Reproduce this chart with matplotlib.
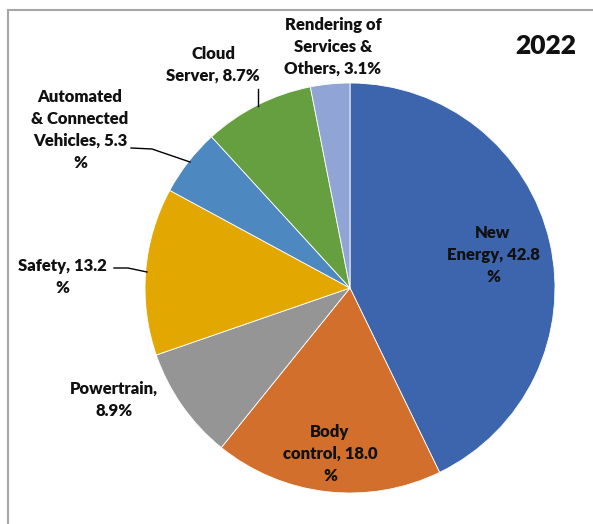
import matplotlib.pyplot as plt
from matplotlib.lines import Line2D

plt.rcParams['font.family'] = ['Lato', 'DejaVu Sans']

# data, clockwise from 12 o'clock
categories = ["New Energy", "Body control", "Powertrain", "Safety",
              "Automated & Connected Vehicles", "Cloud Server",
              "Rendering of Services & Others"]
shares = [42.8, 18.0, 8.9, 13.2, 5.3, 8.7, 3.1]
colors = ["#3d65ad", "#d36f2c", "#959595", "#e2a700",
          "#4e88c0", "#659f3f", "#90a5d6"]
labels = ["New\nEnergy, 42.8\n%", "Body\ncontrol, 18.0\n%", "Powertrain,\n8.9%",
          "Safety, 13.2\n%", "Automated\n& Connected\nVehicles, 5.3\n%",
          "Cloud\nServer, 8.7%", "Rendering of\nServices &\nOthers, 3.1%"]
year = "2022"

W, H = 593, 524
fig = plt.figure(figsize=(W / 100, H / 100), dpi=100)
ax = fig.add_axes([0, 0, 1, 1])

ax.pie(shares, colors=colors, startangle=90, counterclock=False,
       center=(350, H - 288), radius=205, frame=True,
       wedgeprops=dict(edgecolor='white', linewidth=0.6))
ax.set_xlim(0, W)
ax.set_ylim(0, H)
ax.set_aspect('equal')
ax.axis('off')

# label positions (pixels from top-left)
label_pos = [(493, 255), (330, 454), (114, 400), (62, 277),
             (80, 130), (213, 65), (333, 47)]
for txt, (x, y) in zip(labels, label_pos):
    ax.text(x, H - y, txt, ha='center', va='center', fontsize=12,
            fontweight='heavy', linespacing=1.45, color='#111111')

ax.text(546, H - 46, year, ha='center', va='center', fontsize=19,
        fontweight='heavy', color='#111111')

# leader lines
leaders = [
    [(258, 89), (258, 106)],
    [(131, 148), (152, 149), (190, 162)],
    [(114, 268), (128, 268), (147, 272)],
]
for pts in leaders:
    xs = [p[0] for p in pts]
    ys = [H - p[1] for p in pts]
    ax.plot(xs, ys, color='black', linewidth=1)

# chart frame (cut at right/bottom)
fig.add_artist(Line2D([8 / W, 1], [1 - 10 / H, 1 - 10 / H], color='#a6a6a6', linewidth=1.5))
fig.add_artist(Line2D([8 / W, 8 / W], [0, 1 - 10 / H], color='#a6a6a6', linewidth=1.5))

fig.savefig("out.png", dpi=100)
